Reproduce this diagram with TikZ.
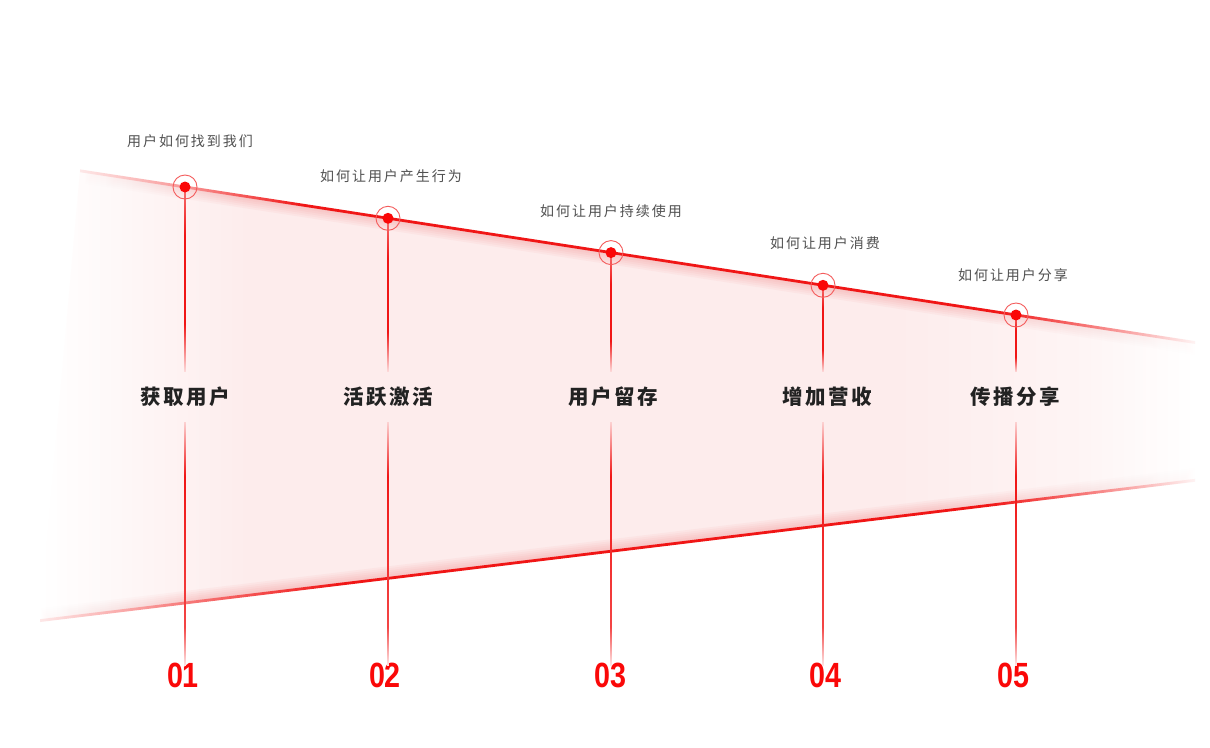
\documentclass[tikz,border=0pt]{standalone}
\usepackage{fontspec}
\usetikzlibrary{calc}
\newfontfamily\cjktitle[LetterSpace=12]{Noto Sans CJK SC}
\newfontfamily\cjksub[LetterSpace=14]{Noto Sans CJK SC}
\newfontfamily\numfont[FakeStretch=0.82]{Liberation Sans}
\definecolor{lred}{RGB}{240,22,22}
\definecolor{dotred}{RGB}{250,8,8}
\definecolor{pinkfill}{RGB}{253,236,236}
\definecolor{glowc}{RGB}{240,110,110}
\definecolor{titlec}{RGB}{34,34,34}
\definecolor{subc}{RGB}{80,80,80}
\pgfdeclarehorizontalshading{fillsh}{100bp}{color(0bp)=(white); color(25bp)=(white); color(29bp)=(pinkfill!45!white); color(34bp)=(pinkfill); color(62bp)=(pinkfill); color(70bp)=(pinkfill!55!white); color(75bp)=(white); color(100bp)=(white)}
\pgfdeclarehorizontalshading{glowsh}{100bp}{color(0bp)=(white); color(25bp)=(white); color(32bp)=(glowc); color(64bp)=(glowc); color(75bp)=(white); color(100bp)=(white)}
\pgfdeclarehorizontalshading{topline}{100bp}{color(0bp)=(white); color(25bp)=(lred!10!white); color(29.7bp)=(lred!45!white); color(35bp)=(lred); color(66bp)=(lred); color(71bp)=(lred!50!white); color(75bp)=(lred!5!white); color(100bp)=(white)}
\pgfdeclarehorizontalshading{botline}{100bp}{color(0bp)=(white); color(25bp)=(lred!10!white); color(31bp)=(lred!55!white); color(38bp)=(lred); color(66bp)=(lred); color(71bp)=(lred!50!white); color(75bp)=(lred!5!white); color(100bp)=(white)}
\pgfdeclareverticalshading{vtopsh}{100bp}{color(0bp)=(lred!15!white); color(25bp)=(lred!15!white); color(38bp)=(lred); color(62bp)=(lred); color(75bp)=(lred!60!white); color(100bp)=(lred!60!white)}
\pgfdeclareverticalshading{vbotsh}{100bp}{color(0bp)=(lred!10!white); color(25bp)=(lred!10!white); color(33bp)=(lred!80!white); color(64bp)=(lred); color(75bp)=(lred!20!white); color(100bp)=(lred!20!white)}
\tikzset{
  subtxt/.style={font=\cjksub\fontsize{14}{16}\selectfont, text=subc, inner sep=0pt},
  titletxt/.style={font=\cjktitle\bfseries\fontsize{20.5}{22}\selectfont, text=titlec, inner sep=0pt, minimum height=50pt},
  numtxt/.style={font=\numfont\bfseries\fontsize{35}{36}\selectfont, text=dotred, inner sep=0pt, minimum height=30pt},
  ringc/.style={draw=lred!70!white, line width=0.9pt},
  dotc/.style={fill=dotred}
}
\begin{document}
\begin{tikzpicture}[x=1pt,y=-1pt]
\useasboundingbox (0,0) rectangle (1210,747);
\fill[white] (0,0) rectangle (1210,747);
% band fill
\shade[shading=fillsh] (80,170.8) -- (1195,342.5) -- (1195,480.3) -- (40,620.6) -- cycle;
% glows
\foreach \k in {2,4,...,12}{
  \shade[shading=glowsh, fill opacity=0.06] (80,170.8) -- (1195,342.5) -- (1195,{342.5+\k}) -- (80,{170.8+\k}) -- cycle;
  \shade[shading=glowsh, fill opacity=0.06] (40,620.6) -- (1195,480.3) -- (1195,{480.3-\k}) -- (40,{620.6-\k}) -- cycle;
}
% edges
\shade[shading=topline] (80,169.4) -- (1195,341.1) -- (1195,343.9) -- (80,172.2) -- cycle;
\shade[shading=botline] (40,619.2) -- (1195,478.9) -- (1195,481.7) -- (40,622) -- cycle;
% markers
\coordinate (m1) at (185,187);
\coordinate (m2) at (388,218.3);
\coordinate (m3) at (611,252.6);
\coordinate (m4) at (823,285.3);
\coordinate (m5) at (1016,315);
% texts
\node[subtxt] (s1) at (190,141) {用户如何找到我们};
\node[subtxt] (s2) at (391,176) {如何让用户产生行为};
\node[subtxt] (s3) at (611,211) {如何让用户持续使用};
\node[subtxt] (s4) at (825,243) {如何让用户消费};
\node[subtxt] (s5) at (1013,275) {如何让用户分享};
\node[titletxt] (t1) at (185,397) {获取用户};
\node[titletxt] (t2) at (388,397) {活跃激活};
\node[titletxt] (t3) at (613,397) {用户留存};
\node[titletxt] (t4) at (827,397) {增加营收};
\node[titletxt] (t5) at (1015,397) {传播分享};
\node[numtxt] (n1) at (183,675) {01};
\node[numtxt] (n2) at (385,675) {02};
\node[numtxt] (n3) at (610,675) {03};
\node[numtxt] (n4) at (825,675) {04};
\node[numtxt] (n5) at (1013,675) {05};
% vertical connectors
\foreach \i in {1,...,5}{
  \shade[shading=vtopsh] ($(m\i)+(-0.9,0)$) rectangle ($(t\i.north -| m\i)+(0.9,0)$);
  \shade[shading=vbotsh] ($(t\i.south -| m\i)+(-0.9,0)$) rectangle ($(n\i.north -| m\i)+(0.9,6)$);
  \draw[ringc] (m\i) circle[radius=12];
  \fill[dotc] (m\i) circle[radius=5.5];
}
\end{tikzpicture}
\end{document}
